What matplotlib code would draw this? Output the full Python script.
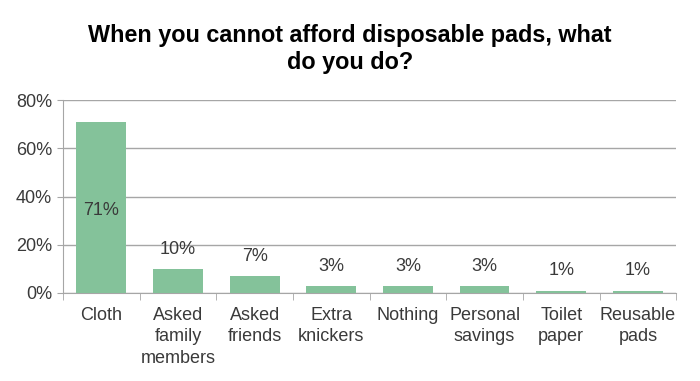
import numpy as np
import matplotlib.pyplot as plt

plt.rcParams.update({
    "font.family": ["Liberation Sans", "DejaVu Sans"],
    "font.size": 13,
})

categories = ["Cloth", "Asked\nfamily\nmembers", "Asked\nfriends", "Extra\nknickers",
              "Nothing", "Personal\nsavings", "Toilet\npaper", "Reusable\npads"]
values = [71, 10, 7, 3, 3, 3, 1, 1]
labels = ["71%", "10%", "7%", "3%", "3%", "3%", "1%", "1%"]

bar_col = "#84c29a"
text_col = "#3a3a3a"
line_col = "#a6a6a6"

fig = plt.figure(figsize=(7, 3.81), dpi=100)
ax = fig.add_axes([0.09, 0.231, 0.876, 0.5065])

x = np.arange(len(categories))
bars = ax.bar(x, values, width=0.65, color=bar_col, zorder=3)

# etiquetas: a primeira dentro da barra, as outras acima
for i, (b, lab) in enumerate(zip(bars, labels)):
    if i == 0:
        ax.text(b.get_x() + b.get_width() / 2, b.get_height() / 2 - 1.5, lab,
                ha="center", va="center", color=text_col)
    else:
        ax.annotate(lab, (b.get_x() + b.get_width() / 2, b.get_height()),
                    xytext=(0, 8), textcoords="offset points",
                    ha="center", va="bottom", color=text_col)

ax.set_xlim(-0.5, len(categories) - 0.5)
ax.set_ylim(0, 80)
ax.set_yticks(range(0, 81, 20))
ax.set_yticklabels([f"{v}%" for v in range(0, 81, 20)], color=text_col)
ax.yaxis.grid(True, color=line_col, linewidth=1, zorder=0)

ax.set_xticks(x)
ax.set_xticklabels(categories, color=text_col, va="top", linespacing=1.35)
ax.set_xticks(np.arange(-0.5, len(categories)), minor=True)
ax.tick_params(axis="x", which="major", length=0, pad=10)
ax.tick_params(axis="x", which="minor", length=5, color=line_col)
ax.tick_params(axis="y", length=4, color=line_col, pad=4)

for s in ["top", "right"]:
    ax.spines[s].set_visible(False)
for s in ["left", "bottom"]:
    ax.spines[s].set_color(line_col)

fig.text(0.5, 0.872, "When you cannot afford disposable pads, what\ndo you do?",
         ha="center", va="center", fontsize=16.8, fontweight="bold",
         color="black", linespacing=1.2)

fig.savefig("out.png", dpi=100)
